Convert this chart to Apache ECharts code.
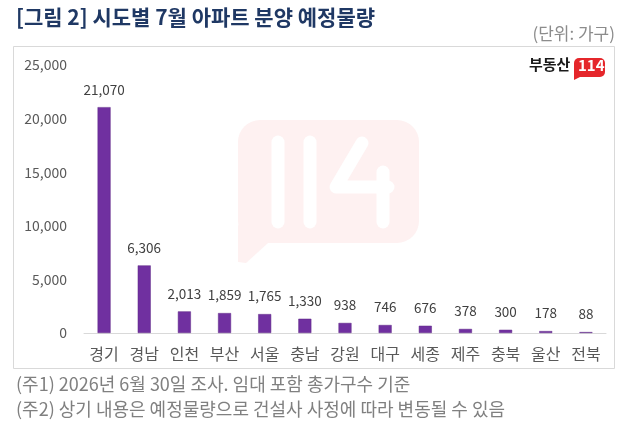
<!DOCTYPE html>
<html>
<head>
<meta charset="utf-8">
<script src="https://cdn.jsdelivr.net/npm/echarts@6/dist/echarts.min.js"></script>
<style>
  html, body { margin: 0; padding: 0; background: #fff; }
  #chart { width: 628px; height: 427px; }
</style>
</head>
<body>
<div id="chart"></div>
<script>
const regions = ['경기', '경남', '인천', '부산', '서울', '충남', '강원', '대구', '세종', '제주', '충북', '울산', '전북']
const supply = [21070, 6306, 2013, 1859, 1765, 1330, 938, 746, 676, 378, 300, 178, 88]
const yTicks = [0, 5000, 10000, 15000, 20000, 25000]
const notes = [
  '(주1) 2026년 6월 30일 조사. 임대 포함 총가구수 기준',
  '(주2) 상기 내용은 예정물량으로 건설사 사정에 따라 변동될 수 있음'
]

const font = "'Noto Sans CJK KR', 'Noto Sans', sans-serif"
const fmt = (v) => Number(v).toLocaleString('en-US')

const chart = echarts.init(document.getElementById('chart'))

const option = {
  backgroundColor: '#fff',
  textStyle: { fontFamily: font },
  animation: false,
  grid: { left: 84, right: 22, top: 65, bottom: 94 },
  xAxis: {
    type: 'category',
    data: regions,
    axisTick: { show: false },
    axisLine: { lineStyle: { color: '#d9d9d9', width: 1 } },
    axisLabel: { color: '#595959', fontSize: 16, margin: 13, fontFamily: font }
  },
  yAxis: {
    type: 'value',
    min: yTicks[0],
    max: yTicks[yTicks.length - 1],
    interval: yTicks[1] - yTicks[0],
    splitLine: { show: false },
    axisLine: { show: false },
    axisTick: { show: false },
    axisLabel: {
      color: '#595959',
      fontSize: 14,
      margin: 17,
      fontFamily: font,
      formatter: (v) => fmt(v)
    }
  },
  series: [
    {
      type: 'bar',
      data: supply,
      barWidth: 13,
      z: 5,
      itemStyle: { color: '#7030a0', borderColor: '#5e2887', borderWidth: 0.5 },
      label: {
        show: true,
        position: 'top',
        distance: 11,
        color: '#404040',
        fontSize: 13.5,
        fontFamily: font,
        formatter: (p) => fmt(p.value)
      }
    }
  ],
  graphic: [
    // chart frame
    {
      type: 'rect',
      z: -10,
      shape: { x: 13.5, y: 46.5, width: 601, height: 322 },
      style: { fill: 'none', stroke: '#d9d9d9', lineWidth: 1 }
    },
    // watermark bubble
    {
      type: 'group',
      z: -5,
      children: [
        {
          type: 'rect',
          shape: { x: 238, y: 120, width: 181, height: 123, r: 22 },
          style: { fill: '#fef1f1' }
        },
        {
          type: 'polygon',
          shape: { points: [[238, 225], [268, 243], [246, 263], [238, 262]] },
          style: { fill: '#fef1f1' }
        },
        {
          type: 'polyline',
          shape: { points: [[278, 142], [278, 222]] },
          style: { stroke: '#fff', lineWidth: 13, lineCap: 'round', fill: 'none' }
        },
        {
          type: 'polyline',
          shape: { points: [[310, 142], [310, 222]] },
          style: { stroke: '#fff', lineWidth: 13, lineCap: 'round', fill: 'none' }
        },
        {
          type: 'polyline',
          shape: { points: [[362, 143], [336, 187], [388, 187]] },
          style: { stroke: '#fff', lineWidth: 13, lineCap: 'round', lineJoin: 'round', fill: 'none' }
        },
        {
          type: 'polyline',
          shape: { points: [[383, 172], [383, 222]] },
          style: { stroke: '#fff', lineWidth: 13, lineCap: 'round', fill: 'none' }
        }
      ]
    },
    // title
    {
      type: 'text',
      left: 16,
      top: 7,
      style: {
        text: '[그림 2] 시도별 7월 아파트 분양 예정물량',
        fill: '#1f3864',
        font: "bold 21px 'Noto Sans CJK KR', sans-serif"
      }
    },
    // unit
    {
      type: 'text',
      right: 13,
      top: 25,
      style: {
        text: '(단위: 가구)',
        fill: '#8c8c8c',
        font: "17px 'Noto Sans CJK KR', sans-serif"
      }
    },
    // logo
    {
      type: 'text',
      left: 529,
      top: 57,
      style: {
        text: '부동산',
        fill: '#1a1a1a',
        font: "bold 15px 'Noto Sans CJK KR', sans-serif"
      }
    },
    {
      type: 'rect',
      shape: { x: 574, y: 58, width: 31, height: 19, r: 5 },
      style: { fill: '#e5262b' }
    },
    {
      type: 'polygon',
      shape: { points: [[574, 70], [580, 77], [574, 80]] },
      style: { fill: '#e5262b' }
    },
    {
      type: 'text',
      left: 578,
      top: 58,
      style: {
        text: '114',
        fill: '#fff',
        font: "bold 15px 'Noto Sans CJK KR', sans-serif"
      }
    },
    // footnotes
    {
      type: 'text',
      left: 16,
      top: 375,
      style: { text: notes[0], fill: '#808080', font: "18px 'Noto Sans CJK KR', sans-serif" }
    },
    {
      type: 'text',
      left: 16,
      top: 400,
      style: { text: notes[1], fill: '#808080', font: "18px 'Noto Sans CJK KR', sans-serif" }
    }
  ]
}

chart.setOption(option)
</script>
</body>
</html>
